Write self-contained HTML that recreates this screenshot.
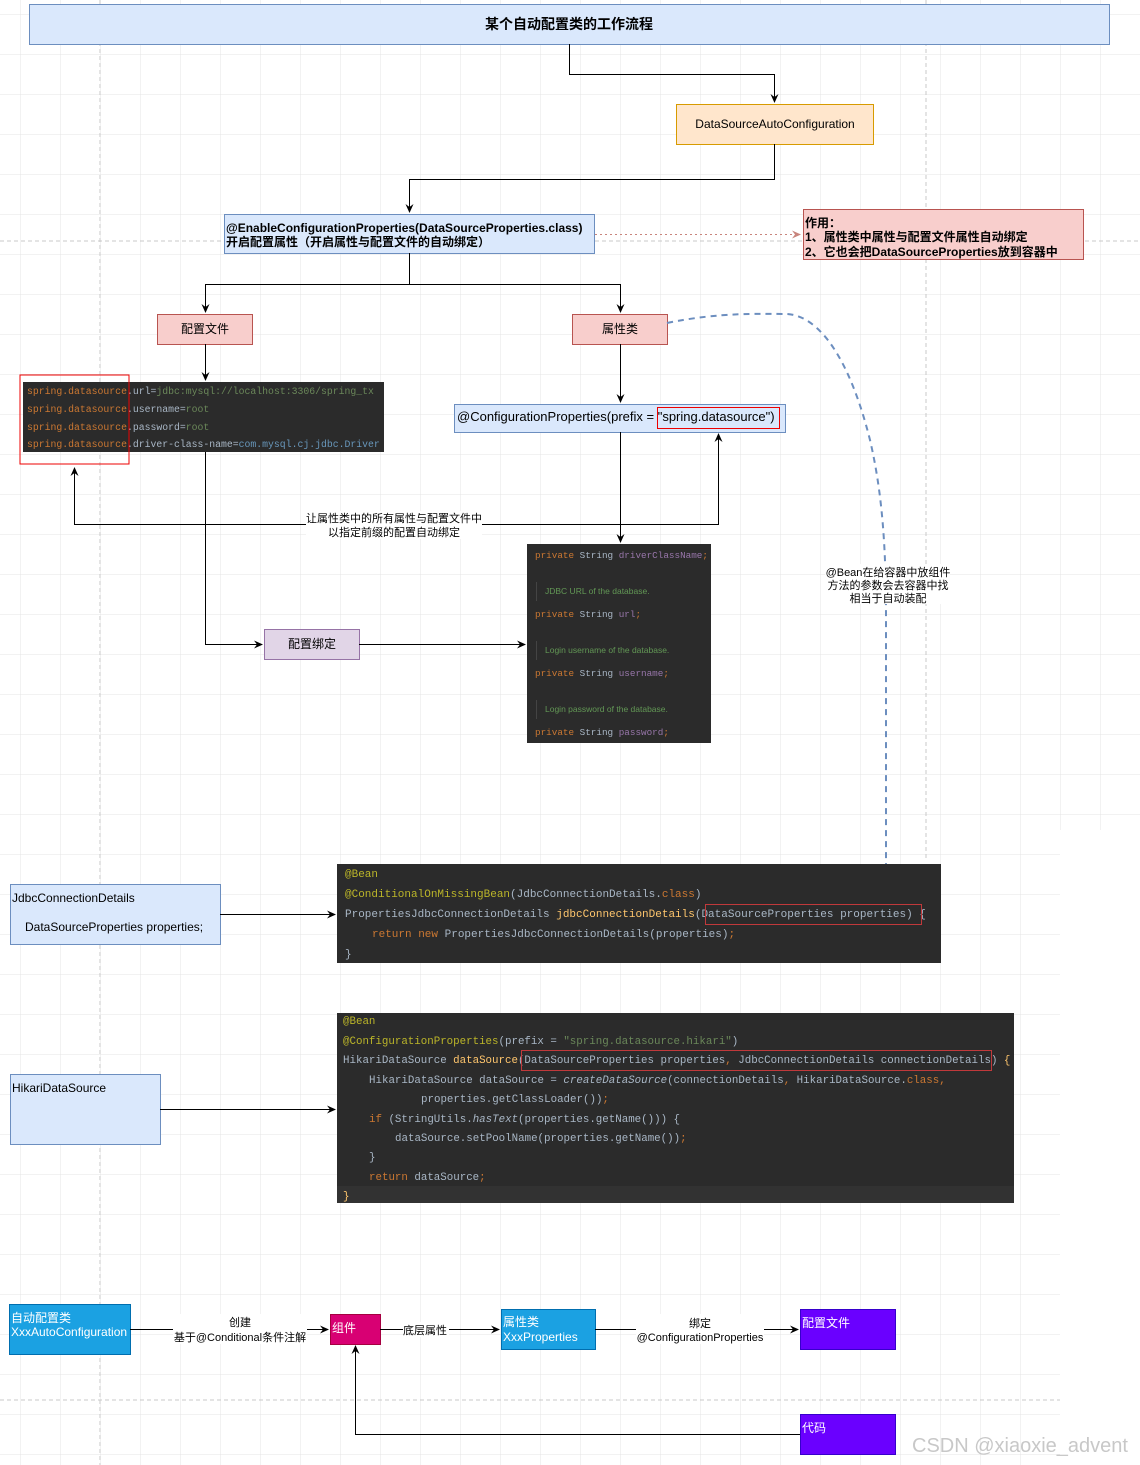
<!DOCTYPE html>
<html><head><meta charset="utf-8"><style>
html,body{margin:0;padding:0;background:#fff}
svg{display:block}
.t{font-family:"Liberation Sans","Noto Sans CJK SC",sans-serif;font-size:12px;fill:#000}
.s{font-size:11px}
.b{font-weight:bold}
.m{font-family:"Liberation Mono","DejaVu Sans Mono",monospace}
.o{fill:#cc7832}.g{fill:#6a8759}.y{fill:#bbb529}.f{fill:#ffc66d}.w{fill:#a9b7c6}.p{fill:#9876aa}.c{fill:#629755}.bl{fill:#6897bb}
</style></head><body>
<svg width="1140" height="1465" viewBox="0 0 1140 1465" xmlns="http://www.w3.org/2000/svg">
<defs>
<pattern id="gr" x="20" y="14" width="40" height="40" patternUnits="userSpaceOnUse">
<path d="M0 0H40M0 0V40" stroke="#e4e4e4" stroke-width="1" fill="none"/>
</pattern>
<marker id="a" markerWidth="10" markerHeight="10" refX="8" refY="5" orient="auto" markerUnits="userSpaceOnUse"><path d="M0 1L9 5L0 9L3 5Z" fill="#000"/></marker>
<marker id="ar" markerWidth="10" markerHeight="10" refX="8" refY="5" orient="auto" markerUnits="userSpaceOnUse"><path d="M0 1L9 5L0 9L3 5Z" fill="#c8847c"/></marker>
</defs>
<rect x="0" y="0" width="1140" height="830" fill="url(#gr)"/>
<rect x="0" y="830" width="1060" height="635" fill="url(#gr)"/>
<path d="M100 0V1465M926 0V860" stroke="#c8c8c8" stroke-dasharray="4 3"/>
<path d="M0 241H1140M0 1400H1060" stroke="#c8c8c8" stroke-dasharray="4 3"/>

<rect x="29.5" y="4.5" width="1080" height="40" fill="#dae8fc" stroke="#6c8ebf"/>
<text class="t b" x="569" y="29" text-anchor="middle" style="font-size:14px">某个自动配置类的工作流程</text>
<path d="M569.5 44V74.5H774.5V102" stroke="#000" fill="none" marker-end="url(#a)"/>
<rect x="676.5" y="104.5" width="197" height="40" fill="#ffe6cc" stroke="#d79b00"/>
<text class="t" x="775" y="128" text-anchor="middle">DataSourceAutoConfiguration</text>
<path d="M774.5 144V179.5H409.5V212" stroke="#000" fill="none" marker-end="url(#a)"/>
<rect x="224.5" y="214.5" width="370" height="39" fill="#dae8fc" stroke="#6c8ebf"/>
<text class="t b" x="226" y="232">@EnableConfigurationProperties(DataSourceProperties.class)</text>
<text class="t b" x="226" y="246">开启配置属性（开启属性与配置文件的自动绑定）</text>
<path d="M595 234.5H800" stroke="#c8847c" stroke-dasharray="2 3" fill="none" marker-end="url(#ar)"/>
<rect x="803.5" y="209.5" width="280" height="50" fill="#f8cecc" stroke="#b85450"/>
<text class="t b" x="805" y="227">作用：</text>
<text class="t b" x="805" y="241">1、属性类中属性与配置文件属性自动绑定</text>
<text class="t b" x="805" y="256">2、它也会把DataSourceProperties放到容器中</text>
<path d="M409.5 253V284.5M205.5 312V284.5H620.5V312" stroke="#000" fill="none"/>
<path d="M205.5 300V312" stroke="#000" marker-end="url(#a)"/>
<path d="M620.5 300V312" stroke="#000" marker-end="url(#a)"/>
<rect x="157.5" y="314.5" width="95" height="30" fill="#f8cecc" stroke="#b85450"/>
<text class="t" x="205" y="333" text-anchor="middle">配置文件</text>
<rect x="572.5" y="314.5" width="95" height="30" fill="#f8cecc" stroke="#b85450"/>
<text class="t" x="620" y="333" text-anchor="middle">属性类</text>

<path d="M205.5 344V380" stroke="#000" marker-end="url(#a)"/>
<rect x="23" y="382" width="361" height="70" fill="#2b2b2b"/>
<g class="m" font-size="9.8">
<text x="27" y="394"><tspan class="o">spring.datasource</tspan><tspan class="w">.url=</tspan><tspan class="g">jdbc:mysql://localhost:3306/spring_tx</tspan></text>
<text x="27" y="412"><tspan class="o">spring.datasource</tspan><tspan class="w">.username=</tspan><tspan class="g">root</tspan></text>
<text x="27" y="430"><tspan class="o">spring.datasource</tspan><tspan class="w">.password=</tspan><tspan class="g">root</tspan></text>
<text x="27" y="447"><tspan class="o">spring.datasource</tspan><tspan class="w">.driver-class-name=</tspan><tspan class="bl">com.mysql.cj.jdbc.Driver</tspan></text>
</g>
<rect x="20" y="375" width="109" height="89" fill="none" stroke="#e00"/>

<path d="M620.5 344V402" stroke="#000" marker-end="url(#a)"/>
<rect x="454.5" y="404.5" width="331" height="28" fill="#dae8fc" stroke="#6c8ebf"/>
<text class="t" x="457" y="421" style="font-size:13px">@ConfigurationProperties(prefix = "spring.datasource")</text>
<rect x="657.5" y="407.5" width="122" height="21" fill="none" stroke="#e00"/>
<path d="M620.5 432V542" stroke="#000" marker-end="url(#a)"/>
<path d="M74.5 468V524.5H718.5V434" stroke="#000" fill="none" marker-end="url(#a)"/>
<path d="M74.5 480V468" stroke="#000" marker-end="url(#a)"/>
<rect x="306" y="511" width="176" height="28" fill="#fff"/>
<text class="t s" x="394" y="522" text-anchor="middle">让属性类中的所有属性与配置文件中</text>
<text class="t s" x="394" y="536" text-anchor="middle">以指定前缀的配置自动绑定</text>

<rect x="527" y="544" width="184" height="199" fill="#2b2b2b"/>
<g class="m" font-size="9.3">
<text x="535" y="558"><tspan class="o">private </tspan><tspan class="w">String </tspan><tspan class="p">driverClassName</tspan><tspan class="o">;</tspan></text>
<text x="535" y="617"><tspan class="o">private </tspan><tspan class="w">String </tspan><tspan class="p">url</tspan><tspan class="o">;</tspan></text>
<text x="535" y="676"><tspan class="o">private </tspan><tspan class="w">String </tspan><tspan class="p">username</tspan><tspan class="o">;</tspan></text>
<text x="535" y="735"><tspan class="o">private </tspan><tspan class="w">String </tspan><tspan class="p">password</tspan><tspan class="o">;</tspan></text>
</g>
<g font-family="Liberation Sans,sans-serif" font-size="8.5" fill="#629755">
<text x="545" y="594">JDBC URL of the database.</text>
<text x="545" y="653">Login username of the database.</text>
<text x="545" y="712">Login password of the database.</text>
</g>
<path d="M536.5 582V601M536.5 641V660M536.5 700V719" stroke="#444"/>

<path d="M205.5 452V644.5H262" stroke="#000" fill="none" marker-end="url(#a)"/>
<rect x="264.5" y="629.5" width="95" height="30" fill="#e1d5e7" stroke="#9673a6"/>
<text class="t" x="312" y="648" text-anchor="middle">配置绑定</text>
<path d="M359 644.5H525" stroke="#000" marker-end="url(#a)"/>

<path d="M667 323C720 312 760 314 787 314C820 316 850 360 870 440C884 500 886 560 886 620V865" stroke="#6c8ebf" stroke-width="2" stroke-dasharray="6 5" fill="none"/>
<rect x="825" y="564" width="125" height="40" fill="#fff"/>
<text class="t s" x="888" y="576" text-anchor="middle">@Bean在给容器中放组件</text>
<text class="t s" x="888" y="589" text-anchor="middle">方法的参数会去容器中找</text>
<text class="t s" x="888" y="602" text-anchor="middle">相当于自动装配</text>

<rect x="10.5" y="884.5" width="210" height="60" fill="#dae8fc" stroke="#6c8ebf"/>
<text class="t" x="12" y="902">JdbcConnectionDetails</text>
<text class="t" x="25" y="931">DataSourceProperties properties;</text>
<path d="M220 914.5H335" stroke="#000" marker-end="url(#a)"/>
<rect x="337" y="864" width="604" height="99" fill="#2b2b2b"/>
<g class="m" font-size="11">
<text x="345" y="877" class="y">@Bean</text>
<text x="345" y="897"><tspan class="y">@ConditionalOnMissingBean</tspan><tspan class="w">(JdbcConnectionDetails.</tspan><tspan class="o">class</tspan><tspan class="w">)</tspan></text>
<text x="345" y="917"><tspan class="w">PropertiesJdbcConnectionDetails </tspan><tspan class="f">jdbcConnectionDetails</tspan><tspan class="w">(DataSourceProperties properties) {</tspan></text>
<text x="372" y="937"><tspan class="o">return new </tspan><tspan class="w">PropertiesJdbcConnectionDetails(properties)</tspan><tspan class="o">;</tspan></text>
<text x="345" y="957" class="w">}</text>
</g>
<rect x="705.5" y="904.5" width="216" height="20" fill="none" stroke="#c0393b"/>

<rect x="10.5" y="1074.5" width="150" height="70" fill="#dae8fc" stroke="#6c8ebf"/>
<text class="t" x="12" y="1092">HikariDataSource</text>
<path d="M160 1109.5H335" stroke="#000" marker-end="url(#a)"/>
<rect x="337" y="1013" width="677" height="190" fill="#2b2b2b"/>
<rect x="337" y="1186" width="677" height="17" fill="#323232"/>
<g class="m" font-size="10.8">
<text x="343" y="1024" class="y">@Bean</text>
<text x="343" y="1044"><tspan class="y">@ConfigurationProperties</tspan><tspan class="w">(prefix = </tspan><tspan class="g">"spring.datasource.hikari"</tspan><tspan class="w">)</tspan></text>
<text x="343" y="1063"><tspan class="w">HikariDataSource </tspan><tspan class="f">dataSource</tspan><tspan class="w">(DataSourceProperties properties</tspan><tspan class="o">, </tspan><tspan class="w">JdbcConnectionDetails connectionDetails) </tspan><tspan class="f">{</tspan></text>
<text x="369" y="1083"><tspan class="w">HikariDataSource dataSource = </tspan><tspan class="w" font-style="italic">createDataSource</tspan><tspan class="w">(connectionDetails</tspan><tspan class="o">, </tspan><tspan class="w">HikariDataSource.</tspan><tspan class="o">class,</tspan></text>
<text x="421" y="1102"><tspan class="w">properties.getClassLoader())</tspan><tspan class="o">;</tspan></text>
<text x="369" y="1122"><tspan class="o">if </tspan><tspan class="w">(StringUtils.</tspan><tspan class="w" font-style="italic">hasText</tspan><tspan class="w">(properties.getName())) {</tspan></text>
<text x="395" y="1141"><tspan class="w">dataSource.setPoolName(properties.getName())</tspan><tspan class="o">;</tspan></text>
<text x="369" y="1160" class="w">}</text>
<text x="369" y="1180"><tspan class="o">return </tspan><tspan class="w">dataSource</tspan><tspan class="o">;</tspan></text>
<text x="343" y="1199" class="f">}</text>
</g>
<rect x="521.5" y="1050.5" width="470" height="20" fill="none" stroke="#c0393b"/>

<rect x="9.5" y="1304.5" width="121" height="50" fill="#1ba1e2" stroke="#006eaf"/>
<text class="t" x="11" y="1322" style="fill:#fff">自动配置类</text>
<text class="t" x="11" y="1336" style="fill:#fff">XxxAutoConfiguration</text>
<path d="M130 1329.5H328" stroke="#000" marker-end="url(#a)"/>
<rect x="173" y="1314" width="134" height="30" fill="#fff"/>
<text class="t s" x="240" y="1326" text-anchor="middle">创建</text>
<text class="t s" x="240" y="1341" text-anchor="middle">基于@Conditional条件注解</text>
<rect x="330.5" y="1314.5" width="50" height="30" fill="#d80073" stroke="#a50040"/>
<text class="t" x="332" y="1332" style="fill:#fff">组件</text>
<path d="M380 1329.5H499" stroke="#000" marker-end="url(#a)"/>
<rect x="403" y="1322" width="46" height="15" fill="#fff"/>
<text class="t s" x="425" y="1334" text-anchor="middle">底层属性</text>
<rect x="501.5" y="1309.5" width="94" height="40" fill="#1ba1e2" stroke="#006eaf"/>
<text class="t" x="503" y="1326" style="fill:#fff">属性类</text>
<text class="t" x="503" y="1341" style="fill:#fff">XxxProperties</text>
<path d="M595 1329.5H798" stroke="#000" marker-end="url(#a)"/>
<rect x="636" y="1314" width="128" height="30" fill="#fff"/>
<text class="t s" x="700" y="1327" text-anchor="middle">绑定</text>
<text class="t s" x="700" y="1341" text-anchor="middle">@ConfigurationProperties</text>
<rect x="800.5" y="1309.5" width="95" height="40" fill="#6a00ff" stroke="#3700cc"/>
<text class="t" x="802" y="1327" style="fill:#fff">配置文件</text>
<rect x="800.5" y="1414.5" width="95" height="40" fill="#6a00ff" stroke="#3700cc"/>
<text class="t" x="802" y="1432" style="fill:#fff">代码</text>
<path d="M800 1434.5H355.5V1346" stroke="#000" fill="none" marker-end="url(#a)"/>
<text x="912" y="1452" font-family="Liberation Sans,sans-serif" font-size="20" fill="#c8c8c8">CSDN @xiaoxie_advent</text>
</svg>
</body></html>
